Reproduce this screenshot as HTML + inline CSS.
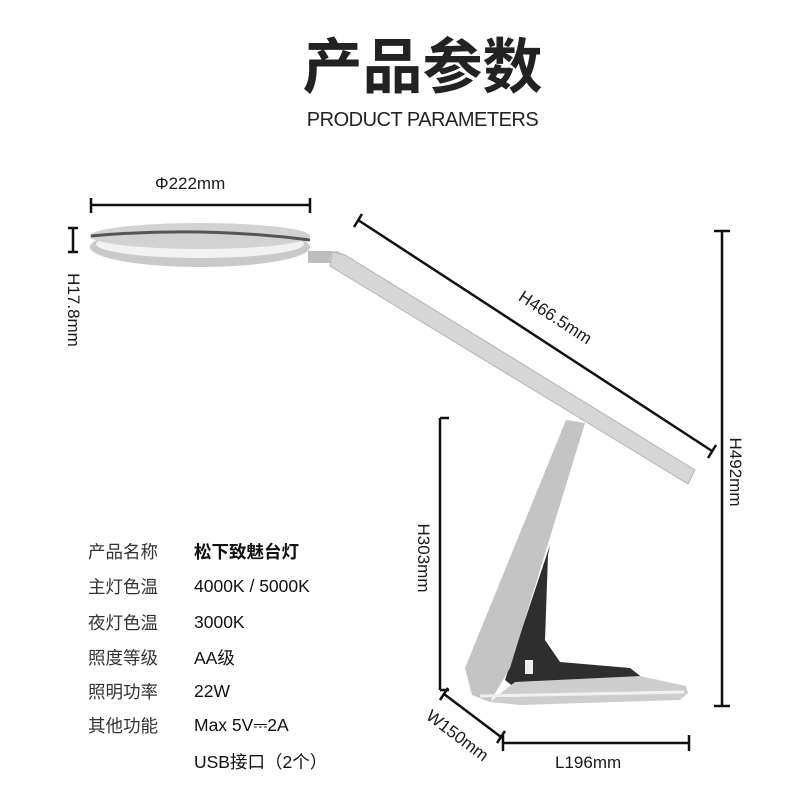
<!DOCTYPE html>
<html><head><meta charset="utf-8"><style>
html,body{margin:0;padding:0;background:#fff;}
#c{position:relative;width:800px;height:800px;overflow:hidden;font-family:"Liberation Sans","Noto Sans CJK SC",sans-serif;color:#1a1a1a;}
.t{position:absolute;white-space:nowrap;}
.lab{position:absolute;left:88px;font-size:17.5px;color:#333;font-family:"Noto Sans CJK SC",sans-serif;}
.val{position:absolute;left:194px;font-size:17.5px;color:#111;font-family:"Liberation Sans","Noto Sans CJK SC",sans-serif;}
</style></head><body><div id="c">
<div class="t" style="left:290px;top:26px;width:265px;text-align:center;font-size:60px;font-weight:bold;font-family:'Noto Sans CJK SC',sans-serif;line-height:74px;color:#222;">产品参数</div>
<div class="t" style="left:300px;top:108px;width:245px;text-align:center;font-size:20px;line-height:24px;color:#222;letter-spacing:-0.5px;">PRODUCT PARAMETERS</div>

<svg width="800" height="800" style="position:absolute;left:0;top:0">
<ellipse cx="200" cy="247" rx="110" ry="20" fill="#c9c9c9"/>
<ellipse cx="200" cy="244" rx="104" ry="14" fill="#f2f2f2"/>
<ellipse cx="200" cy="236" rx="110" ry="13" fill="#d2d2d2"/>
<path d="M91 236 Q200 226 310 240" stroke="#555" stroke-width="3" fill="none"/>
<rect x="308" y="251" width="24" height="12" fill="#bdbdbd"/>
<circle cx="336" cy="258" r="7" fill="#c8c8c8"/>
<polygon points="332,252 345,255 695,470 688,484 330,266" fill="#d6d6d6" stroke="#b5b5b5"/>
<!-- stand -->
<polygon points="550,545 548,555 545,640 560,662 630,668 648,682 520,692 505,680" fill="#2e2e2e"/>
<polygon points="566,420 585,423 510,668 490,702 472,695 465,668" fill="#c4c4c4"/>
<polygon points="515,682 640,676 686,686 688,693 680,700 520,705 490,702" fill="#cdcdcd"/>
<path d="M480 696 L684 692" stroke="#f0f0f0" stroke-width="3"/>
<rect x="525" y="660" width="8" height="14" fill="#eee"/>
<g stroke="#111" stroke-width="2.5" fill="none">
<line x1="91" y1="205" x2="310" y2="205"/><line x1="91" y1="198" x2="91" y2="213"/><line x1="310" y1="198" x2="310" y2="213"/>
<line x1="73" y1="228" x2="73" y2="252"/><line x1="68" y1="228" x2="78" y2="228"/><line x1="68" y1="252" x2="78" y2="252"/>
<line x1="358" y1="220" x2="712" y2="451"/><line x1="354" y1="227" x2="362" y2="214"/><line x1="708" y1="458" x2="716" y2="445"/>
<line x1="722" y1="231" x2="722" y2="706"/><line x1="714" y1="231" x2="730" y2="231"/><line x1="714" y1="706" x2="730" y2="706"/>
<line x1="440" y1="418" x2="440" y2="690"/><line x1="440" y1="418" x2="449" y2="418"/><line x1="440" y1="690" x2="449" y2="690"/>
<line x1="444" y1="694" x2="501" y2="737"/><line x1="440" y1="700" x2="448" y2="688"/><line x1="497" y1="743" x2="505" y2="731"/>
<line x1="503" y1="743" x2="689" y2="743"/><line x1="503" y1="735" x2="503" y2="751"/><line x1="689" y1="735" x2="689" y2="751"/>
</g>
</svg>
<div class="t" style="left:155px;top:174px;font-size:17px;">Φ222mm</div>
<div class="t" style="left:28px;top:300px;font-size:17px;transform:rotate(90deg);transform-origin:center;width:90px;text-align:center;">H17.8mm</div>
<div class="t" style="left:505px;top:308px;font-size:17px;transform:rotate(33deg);width:100px;text-align:center;">H466.5mm</div>
<div class="t" style="left:690px;top:462px;font-size:17px;transform:rotate(90deg);width:90px;text-align:center;">H492mm</div>
<div class="t" style="left:378px;top:548px;font-size:17px;transform:rotate(90deg);width:90px;text-align:center;">H303mm</div>
<div class="t" style="left:412px;top:726px;font-size:17px;transform:rotate(37deg);width:90px;text-align:center;">W150mm</div>
<div class="t" style="left:555px;top:753px;font-size:17px;">L196mm</div>

<div class="lab" style="top:539px">产品名称</div><div class="val" style="top:539px;font-weight:bold;font-family:'Noto Sans CJK SC',sans-serif;">松下致魅台灯</div>
<div class="lab" style="top:574px">主灯色温</div><div class="val" style="top:576px">4000K / 5000K</div>
<div class="lab" style="top:610px">夜灯色温</div><div class="val" style="top:612px">3000K</div>
<div class="lab" style="top:645px">照度等级</div><div class="val" style="top:645px">AA级</div>
<div class="lab" style="top:679px">照明功率</div><div class="val" style="top:681px">22W</div>
<div class="lab" style="top:713px">其他功能</div><div class="val" style="top:715px">Max 5V⎓2A</div>
<div class="val" style="top:749px">USB接口（2个）</div>
</div></body></html>
